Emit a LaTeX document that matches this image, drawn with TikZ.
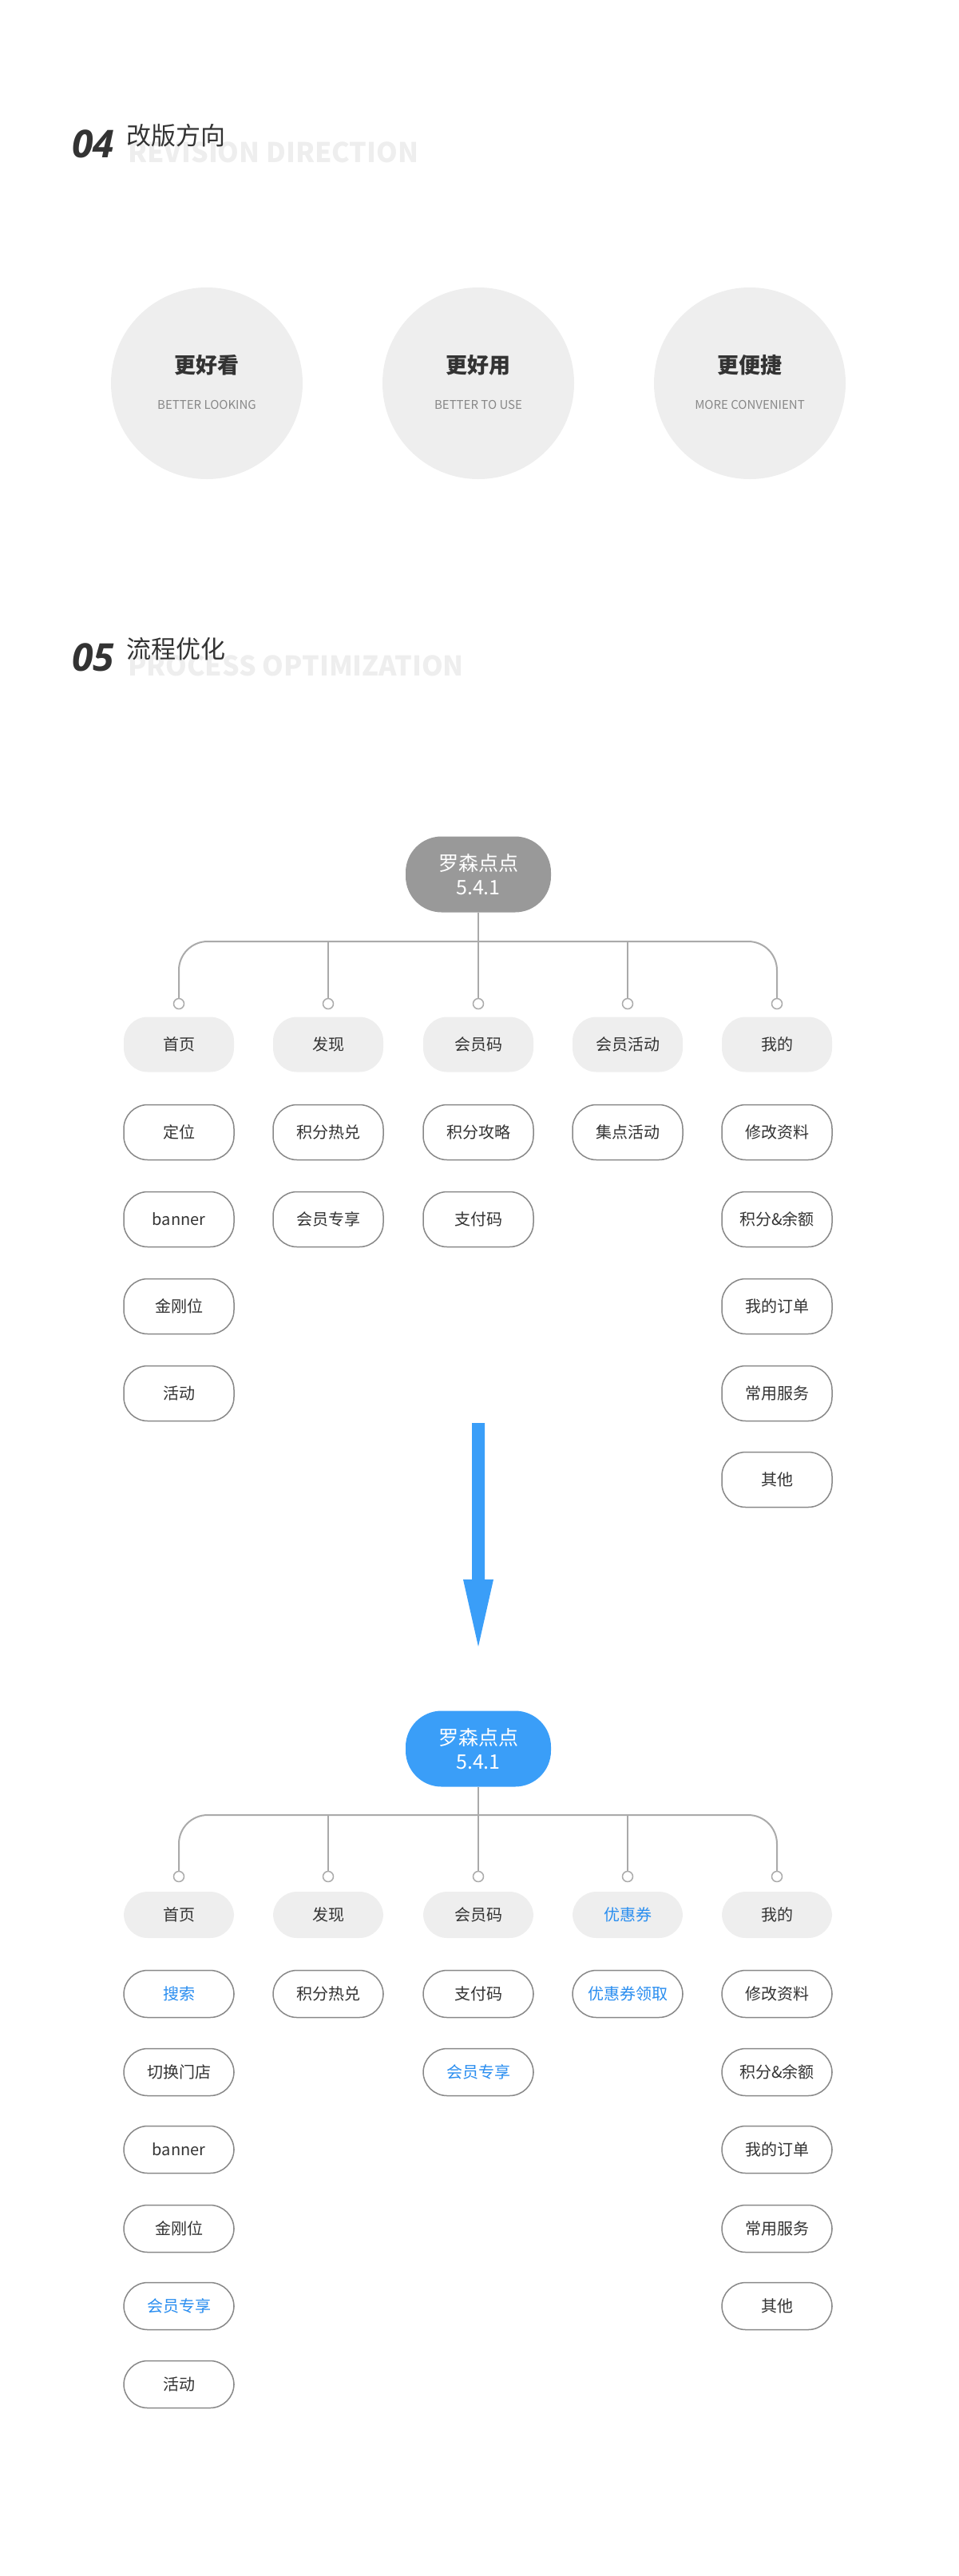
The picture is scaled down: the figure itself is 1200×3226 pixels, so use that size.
\documentclass[tikz,border=0pt]{standalone}
\usepackage{fontspec}
\setmainfont{Noto Sans CJK SC}
\newfontfamily\numfont{Open Sans}
\usetikzlibrary{positioning}
\definecolor{rootgray}{HTML}{999999}
\definecolor{rootblue}{HTML}{3A9EF8}
\definecolor{textblue}{HTML}{2A8EF0}
\definecolor{tabfill}{HTML}{EEEEEE}
\definecolor{linegray}{HTML}{AAAAAA}
\definecolor{boxgray}{HTML}{888888}
\definecolor{ink}{HTML}{333333}
\begin{document}
\begin{tikzpicture}[x=1pt,y=-1pt,line width=1.5pt]

		% Styles
		\tikzstyle{root}=[text=white,minimum width=182pt,minimum height=95pt,rounded corners=45pt,align=center,font=\fontsize{25}{30}\selectfont,inner sep=0pt]
		\tikzstyle{tab}=[fill=tabfill,text=ink,minimum width=138pt,rounded corners=30pt,font=\fontsize{20}{24}\selectfont,inner sep=0pt]
		\tikzstyle{leaf}=[draw=boxgray,fill=white,text=ink,minimum width=138pt,rounded corners=30pt,font=\fontsize{20}{24}\selectfont,inner sep=0pt]
		\tikzstyle{new}=[text=textblue]
		\tikzstyle{dot}=[circle,draw=linegray,fill=white,minimum size=13pt,inner sep=0pt]
		\tikzstyle{link}=[draw=linegray,line width=2pt]
		\tikzstyle{goal}=[circle,fill=tabfill,minimum size=240pt]

		\useasboundingbox (0,0) rectangle (1200,3226);

		% 04 heading
		\node[text=tabfill,anchor=west,font=\fontsize{34}{34}\selectfont\bfseries] (ghostA) at (156,191) {REVISION DIRECTION};
		\node[text=ink,anchor=west,font=\numfont\fontsize{48}{48}\selectfont\bfseries\itshape] (numA) at (86,180) {04};
		\node[text=ink,anchor=west,font=\fontsize{31}{31}\selectfont] (titleA) at (154,170) {改版方向};

		% Goals
		\foreach \x/\n/\cn/\en in {259/g1/更好看/BETTER LOOKING,599/g2/更好用/BETTER TO USE,939/g3/更便捷/MORE CONVENIENT}{
			\node[goal] (\n) at (\x,480) {};
			\node[text=ink,font=\fontsize{27}{27}\selectfont\bfseries] at (\x,457) {\cn};
			\node[text=boxgray,font=\fontsize{15}{15}\selectfont] at (\x,507) {\en};
		}

		% 05 heading
		\node[text=tabfill,anchor=west,font=\fontsize{34}{34}\selectfont\bfseries] (ghostB) at (156,834) {PROCESS OPTIMIZATION};
		\node[text=ink,anchor=west,font=\numfont\fontsize{48}{48}\selectfont\bfseries\itshape] (numB) at (86,823) {05};
		\node[text=ink,anchor=west,font=\fontsize{31}{31}\selectfont] (titleB) at (154,813) {流程优化};

		% Old structure
		\node[root,fill=rootgray] (old) at (599,1095) {罗森点点\\5.4.1};
		\coordinate (oldbar) at (599,1179);
		\foreach \x/\n in {224/oa,411/ob,599/oc,786/od,973/oe}
			\node[dot] (\n dot) at (\x,1257) {};
		\foreach \n in {ob,oc,od}
			\draw[link] (\n dot) |- (oldbar);
		\draw[link,rounded corners=36pt] (oadot) |- (oldbar) -| (oedot);
		\draw[link] (old) -- (oldbar);

		\node[tab,minimum height=69pt] (oa) at (224,1308) {首页};
		\node[tab,minimum height=69pt] (ob) at (411,1308) {发现};
		\node[tab,minimum height=69pt] (oc) at (599,1308) {会员码};
		\node[tab,minimum height=69pt] (od) at (786,1308) {会员活动};
		\node[tab,minimum height=69pt] (oe) at (973,1308) {我的};

		\foreach \x/\y/\n/\t in {224/1418/oa1/定位,224/1527/oa2/banner,224/1636/oa3/金刚位,224/1745/oa4/活动,
			411/1418/ob1/积分热兑,411/1527/ob2/会员专享,
			599/1418/oc1/积分攻略,599/1527/oc2/支付码,
			786/1418/od1/集点活动,
			973/1418/oe1/修改资料,973/1527/oe2/积分\&余额,973/1636/oe3/我的订单,973/1745/oe4/常用服务,973/1853/oe5/其他}
			\node[leaf,minimum height=69pt] (\n) at (\x,\y) {\t};

		% Arrow
		\fill[rootblue] (591,1782) -- (607,1782) -- (607,1978) -- (618,1978) -- (599,2062) -- (580,1978) -- (591,1978) -- cycle;

		% New structure
		\node[root,fill=rootblue] (neu) at (599,2190) {罗森点点\\5.4.1};
		\coordinate (neubar) at (599,2273);
		\foreach \x/\n in {224/na,411/nb,599/nc,786/nd,973/ne}
			\node[dot] (\n dot) at (\x,2350) {};
		\foreach \n in {nb,nc,nd}
			\draw[link] (\n dot) |- (neubar);
		\draw[link,rounded corners=36pt] (nadot) |- (neubar) -| (nedot);
		\draw[link] (neu) -- (neubar);

		\node[tab,minimum height=58pt] (na) at (224,2398) {首页};
		\node[tab,minimum height=58pt] (nb) at (411,2398) {发现};
		\node[tab,minimum height=58pt] (nc) at (599,2398) {会员码};
		\node[tab,new,minimum height=58pt] (nd) at (786,2398) {优惠券};
		\node[tab,minimum height=58pt] (ne) at (973,2398) {我的};

		\foreach \x/\y/\n/\t/\c in {224/2497/na1/搜索/textblue,224/2595/na2/切换门店/ink,224/2692/na3/banner/ink,224/2791/na4/金刚位/ink,224/2888/na5/会员专享/textblue,224/2986/na6/活动/ink,
			411/2497/nb1/积分热兑/ink,
			599/2497/nc1/支付码/ink,599/2595/nc2/会员专享/textblue,
			786/2497/nd1/优惠券领取/textblue,
			973/2497/ne1/修改资料/ink,973/2595/ne2/积分\&余额/ink,973/2692/ne3/我的订单/ink,973/2791/ne4/常用服务/ink,973/2888/ne5/其他/ink}
			\node[leaf,text=\c,minimum height=59pt] (\n) at (\x,\y) {\t};

\end{tikzpicture}
\end{document}
